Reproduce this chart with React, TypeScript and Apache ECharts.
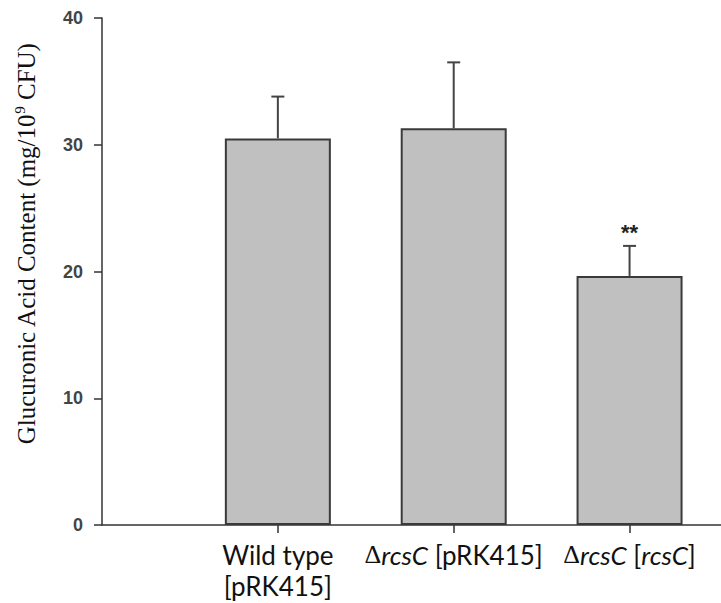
import React, { useEffect, useRef } from "react";
import * as echarts from "echarts";

const categories = ["Wild type\n[pRK415]", "ΔrcsC [pRK415]", "ΔrcsC [rcsC]"];
const positions = [1, 2, 3];
const means = [30.5, 31.3, 19.65];
const errors = [3.3, 5.2, 2.37];
const significance = ["", "", "**"];
const yTicks = [0, 10, 20, 30, 40];

export default function App() {
  const ref = useRef<HTMLDivElement>(null);
  useEffect(() => {
    if (!ref.current) return;
    const chart = echarts.init(ref.current, undefined, { renderer: "svg" });
    const labelColor = "#111";
    const option: any = {
      animation: false,
      backgroundColor: "#fff",
      grid: { left: 102, right: 0, top: 18, bottom: 78 },
      xAxis: {
        type: "value",
        min: 0,
        max: 3.52,
        splitLine: { show: false },
        axisLine: { show: true, lineStyle: { color: "#333", width: 1.5 } },
        axisTick: { show: true, length: 8, customValues: positions, lineStyle: { color: "#333", width: 1.5 } },
        axisLabel: {
          customValues: positions,
          margin: 14,
          fontFamily: "Lato",
          fontSize: 26,
          lineHeight: 31,
          color: labelColor,
          formatter: (v: number) => {
            const i = positions.indexOf(Math.round(v));
            if (i < 0) return "";
            return categories[i]
              .replace(/Δ/g, "{d|Δ}")
              .replace(/rcsC/g, "{i|rcsC}");
          },
          rich: {
            d: { fontFamily: "Liberation Serif", fontSize: 26, lineHeight: 31, color: labelColor },
            i: { fontFamily: "Lato", fontStyle: "italic", fontSize: 26, lineHeight: 31, color: labelColor },
          },
        },
      },
      yAxis: {
        type: "value",
        min: yTicks[0],
        max: yTicks[yTicks.length - 1],
        interval: 10,
        splitLine: { show: false },
        axisLine: { show: true, lineStyle: { color: "#333", width: 1.5 } },
        axisTick: { show: true, length: 8, lineStyle: { color: "#333", width: 1.5 } },
        axisLabel: {
          margin: 19,
          fontFamily: "Liberation Sans",
          fontWeight: "bold",
          fontSize: 18,
          color: "#444",
        },
      },
      graphic: [
        {
          type: "text",
          x: 26,
          y: 244,
          rotation: Math.PI / 2,
          style: {
            text: "{t|Glucuronic Acid Content (mg/10}{s|9}{t| CFU)}",
            align: "center",
            verticalAlign: "middle",
            rich: {
              t: { fontFamily: "Liberation Serif", fontSize: 25, lineHeight: 27, fill: "#111" },
              s: { fontFamily: "Liberation Serif", fontSize: 15, lineHeight: 15, verticalAlign: "top", fill: "#111" },
            },
          },
        },
      ],
      series: [
        {
          type: "bar",
          barWidth: 106,
          data: positions.map((p, i) => [p, means[i]]),
          itemStyle: { color: "#c0c0c0", borderColor: "#3a3a3a", borderWidth: 2 },
          z: 2,
        },
        {
          type: "custom",
          z: 3,
          data: positions.map((p, i) => [p, means[i], means[i] + errors[i], i]),
          renderItem: (params: any, api: any) => {
            const x = api.value(0);
            const top = api.coord([x, api.value(1)]);
            const hi = api.coord([x, api.value(2)]);
            const idx = api.value(3);
            const capW = 13;
            const stroke = { stroke: "#444", lineWidth: 2 };
            return {
              type: "group",
              children: [
                { type: "line", shape: { x1: top[0], y1: top[1], x2: hi[0], y2: hi[1] }, style: stroke },
                { type: "line", shape: { x1: hi[0] - capW / 2, y1: hi[1], x2: hi[0] + capW / 2, y2: hi[1] }, style: stroke },
                {
                  type: "text",
                  x: hi[0],
                  y: hi[1] - 13,
                  style: {
                    text: significance[idx],
                    align: "center",
                    verticalAlign: "middle",
                    fontFamily: "Liberation Sans",
                    fontWeight: "bold",
                    fontSize: 22,
                    fill: "#222",
                  },
                },
              ],
            };
          },
        },
      ],
    };
    chart.setOption(option);
    return () => chart.dispose();
  }, []);
  return (
    <div
      ref={ref}
      style={{ position: "fixed", left: 0, top: 0, width: 721, height: 603, background: "#fff" }}
    />
  );
}
